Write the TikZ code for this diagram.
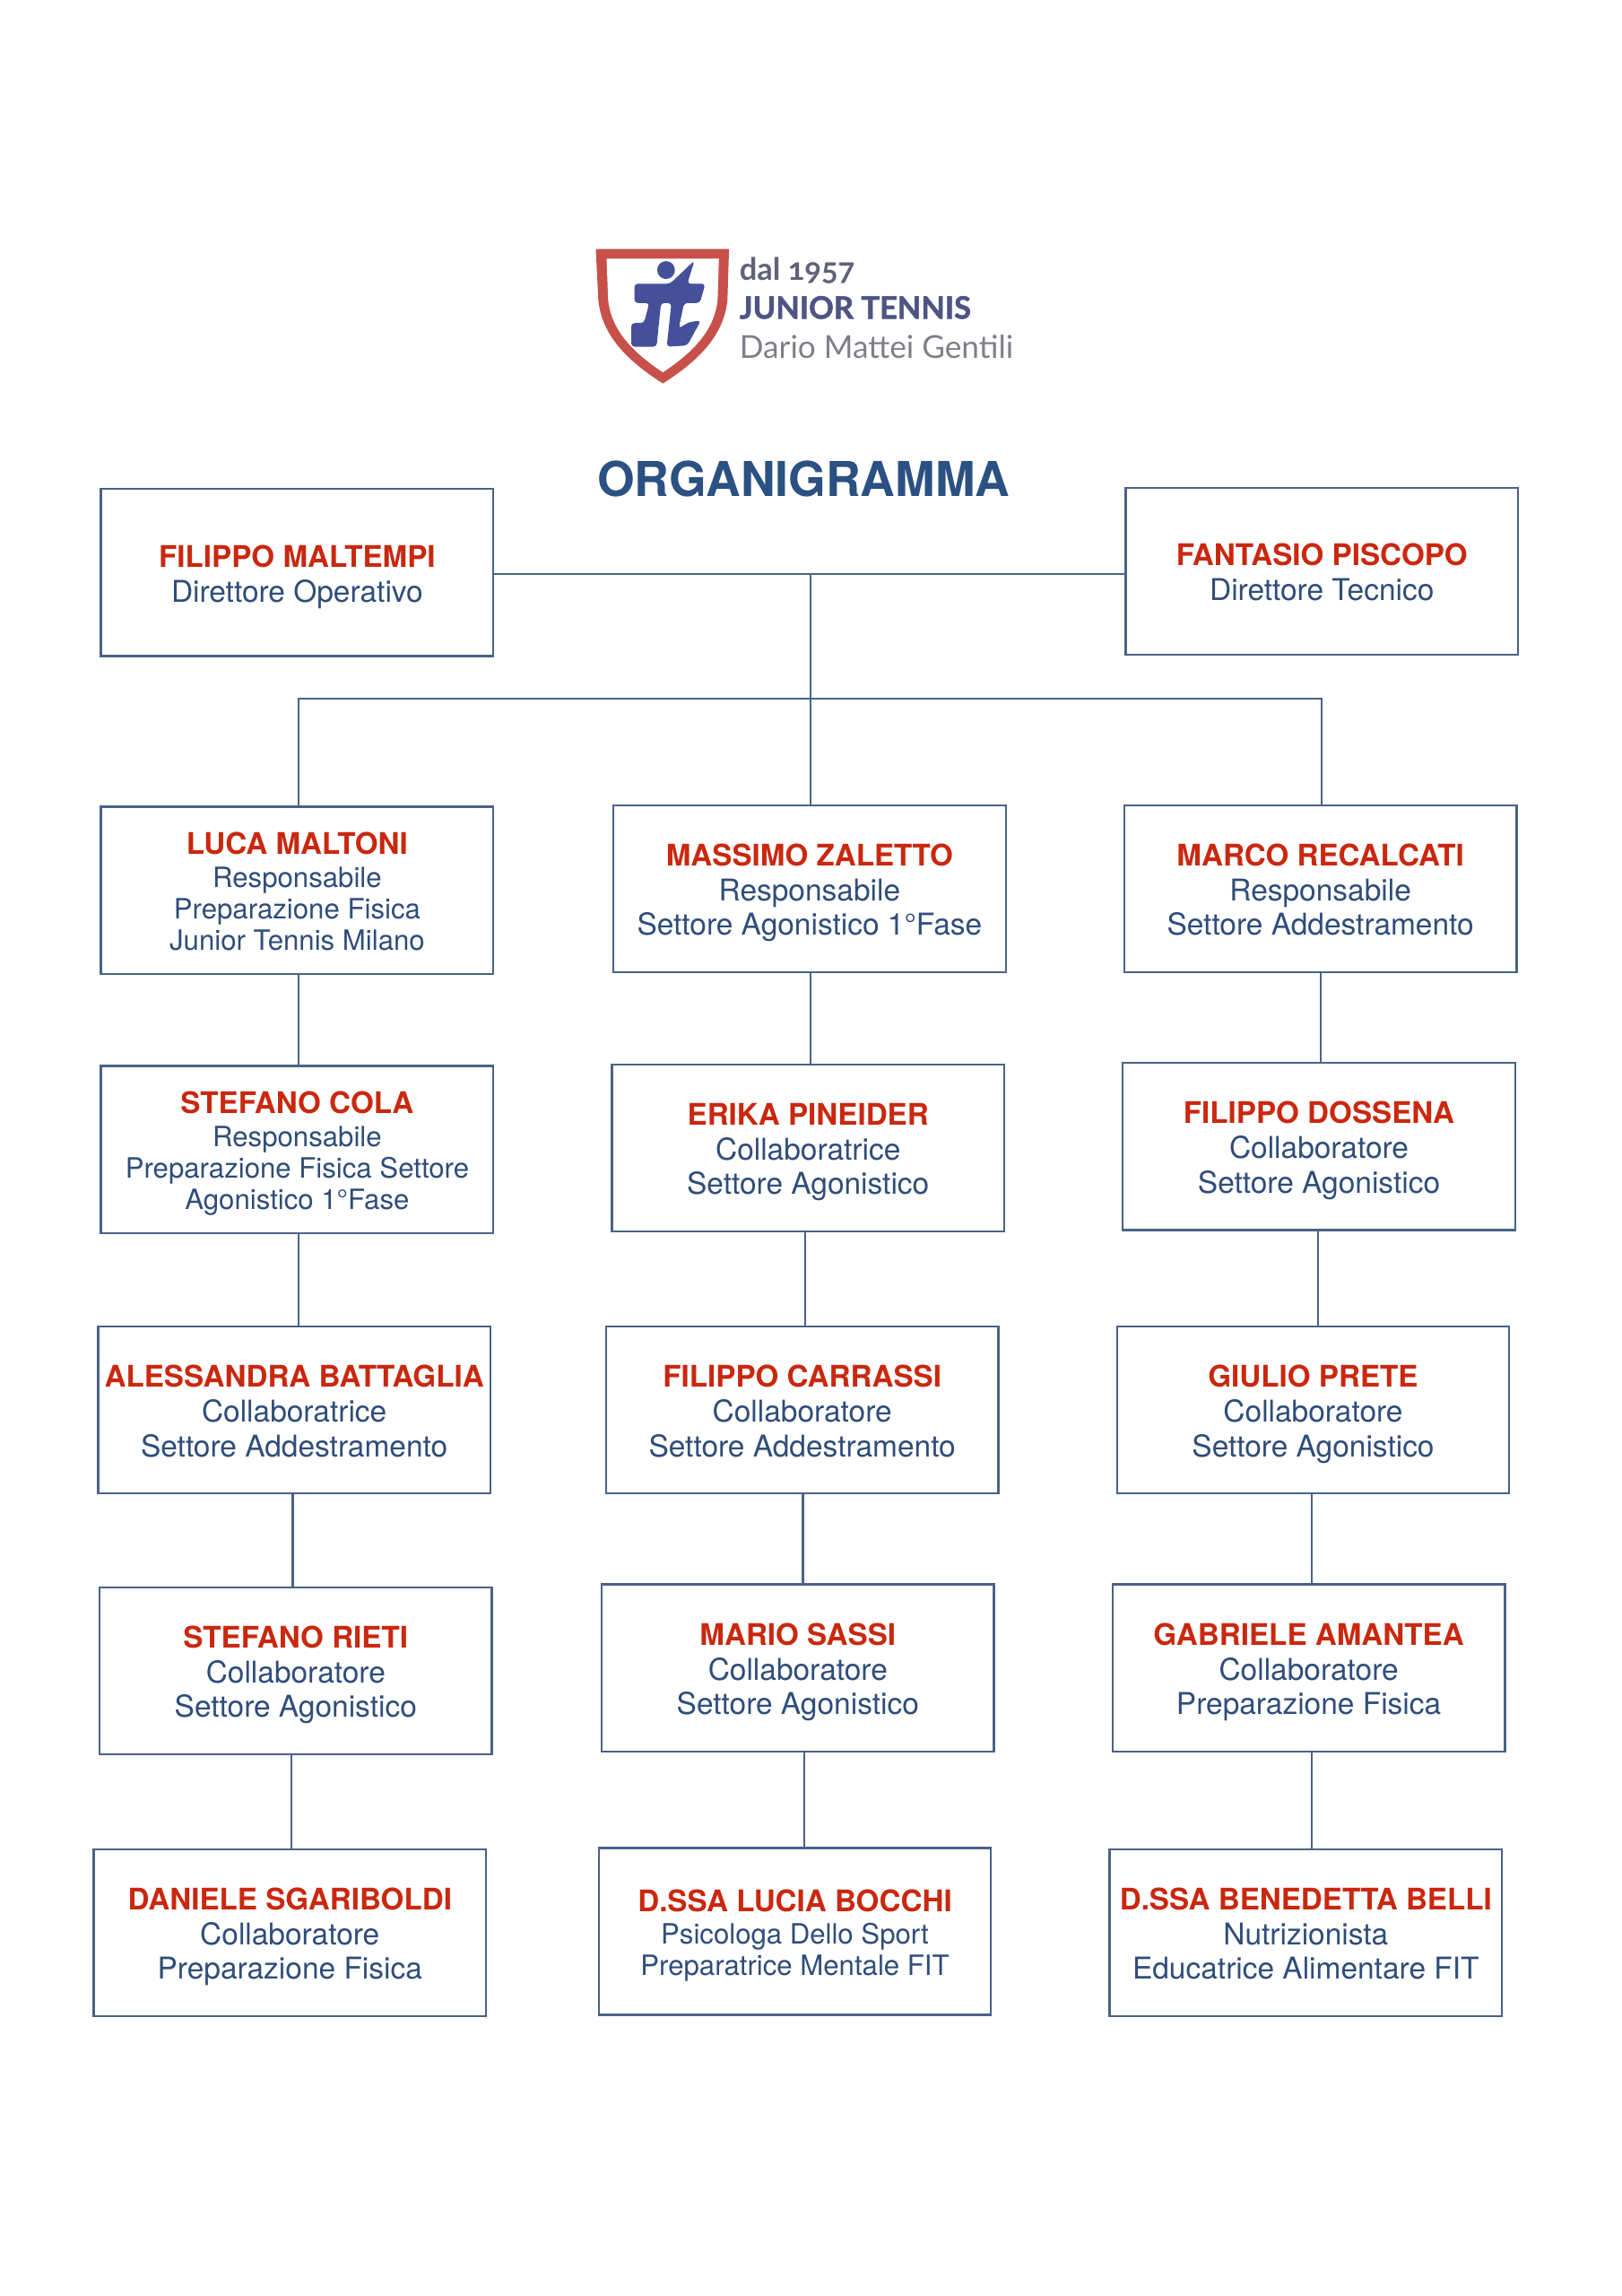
\documentclass[tikz,border=0pt]{standalone}
\usepackage{fontspec}
\setmainfont{TeX Gyre Heros}
\newfontfamily\logofont{Lato}
\newfontfamily\logoold[Numbers=OldStyle]{Lato Bold}
\newfontfamily\logoheavy[FakeBold=1.6]{Lato Bold}
\definecolor{nred}{HTML}{C9280F}
\definecolor{rblue}{HTML}{2F4D7A}
\definecolor{lblue}{HTML}{4A6288}
\definecolor{tblue}{HTML}{2B5082}
\definecolor{shred}{HTML}{C8504A}
\definecolor{shblue}{HTML}{46509A}
\definecolor{logogrey}{HTML}{5F6278}
\definecolor{logoblue}{HTML}{4F5583}
\definecolor{logolight}{HTML}{7D8089}
\newcommand{\pname}[1]{\rule{0pt}{17.6pt}{\color{nred}\bfseries\fontsize{17.35}{20}\selectfont #1}}
\newcommand{\plast}[1]{#1\vphantom{g}}
\tikzset{
 pbox/.style={draw=lblue,line width=1.2pt,fill=white,minimum width=8.04cm,minimum height=3.42cm,inner sep=0pt,align=center,text=rblue,font=\fontsize{17.5}{20}\selectfont},
 pboxs/.style={pbox,font=\fontsize{16.3}{18.2}\selectfont},
 link/.style={draw=lblue,line width=1.2pt},
 title/.style={font=\fontsize{28}{30}\selectfont\bfseries,text=tblue,inner sep=0pt},
}
\newcommand{\vlink}[3]{\draw[link] (#1.south -| #3,0) -- (#2.north -| #3,0);}
\begin{document}
\begin{tikzpicture}[x=0.03cm,y=-0.03cm]
\useasboundingbox (0,0) rectangle (1108,1568);
% logo
\begin{scope}[shift={(394.9,157.8)}]
\begin{scope}[x=0.00648cm,y=-0.00655cm]
\fill[shred] (56,56) -- (477,56) -- (472,215) .. controls (462,320) and (390,400) .. (268,477) .. controls (146,400) and (74,320) .. (64,215) -- cycle;
\fill[white] (90,86) -- (445,86) -- (441,215) .. controls (432,305) and (370,375) .. (268,442) .. controls (166,375) and (104,305) .. (95,215) -- cycle;
\fill[shblue] (278,122) circle (28);
\fill[shblue,rounded corners=2pt] (178,165) -- (290,165) -- (368,92) -- (345,165) -- (402,165) -- (385,225) -- (335,225) -- (318,305) -- (350,285) -- (388,280) -- (345,358) -- (280,362) -- (295,225) -- (262,225) -- (248,362) -- (168,362) -- (168,288) -- (208,288) -- (225,225) -- (178,225) -- cycle;
\end{scope}
\end{scope}
\node[anchor=west,inner sep=0pt,text=logogrey,font=\logoold\fontsize{18}{19}\selectfont] (l1) at (505,185) {dal 1957};
\node[anchor=west,inner sep=0pt,text=logoblue,font=\logoheavy\fontsize{18}{19}\selectfont] (l2) at (505,210) {JUNIOR TENNIS};
\node[anchor=west,inner sep=0pt,text=logolight,font=\logofont\fontsize{18.4}{19}\selectfont] (l3) at (505,237) {Dario Mattei Gentili};
\node[title] (ttl) at (549,327) {ORGANIGRAMMA};
% boxes
\node[pbox] (fm) at (203,391) {\pname{FILIPPO MALTEMPI}\\[0.4pt]\plast{Direttore Operativo}};
\node[pbox] (fp) at (903,390) {\pname{FANTASIO PISCOPO}\\[0.4pt]\plast{Direttore Tecnico}};
\node[pboxs] (lm) at (203,608) {\pname{LUCA MALTONI}\\[1pt]Responsabile\\Preparazione Fisica\\\plast{Junior Tennis Milano}};
\node[pbox] (mz) at (553,607) {\pname{MASSIMO ZALETTO}\\[0.4pt]Responsabile\\\plast{Settore Agonistico 1°Fase}};
\node[pbox] (mr) at (902,607) {\pname{MARCO RECALCATI}\\[0.4pt]Responsabile\\\plast{Settore Addestramento}};
\node[pboxs] (sc) at (203,785) {\pname{STEFANO COLA}\\[1pt]Responsabile\\Preparazione Fisica Settore\\\plast{Agonistico 1°Fase}};
\node[pbox] (ep) at (552,784) {\pname{ERIKA PINEIDER}\\[0.4pt]Collaboratrice\\\plast{Settore Agonistico}};
\node[pbox] (fd) at (901,783) {\pname{FILIPPO DOSSENA}\\[0.4pt]Collaboratore\\\plast{Settore Agonistico}};
\node[pbox] (ab) at (201,963) {\pname{ALESSANDRA BATTAGLIA}\\[0.4pt]Collaboratrice\\\plast{Settore Addestramento}};
\node[pbox] (fc) at (548,963) {\pname{FILIPPO CARRASSI}\\[0.4pt]Collaboratore\\\plast{Settore Addestramento}};
\node[pbox] (gp) at (897,963) {\pname{GIULIO PRETE}\\[0.4pt]Collaboratore\\\plast{Settore Agonistico}};
\node[pbox] (sr) at (202,1141) {\pname{STEFANO RIETI}\\[0.4pt]Collaboratore\\\plast{Settore Agonistico}};
\node[pbox] (ms) at (545,1139) {\pname{MARIO SASSI}\\[0.4pt]Collaboratore\\\plast{Settore Agonistico}};
\node[pbox] (ga) at (894,1139) {\pname{GABRIELE AMANTEA}\\[0.4pt]Collaboratore\\\plast{Preparazione Fisica}};
\node[pbox] (ds) at (198,1320) {\pname{DANIELE SGARIBOLDI}\\[0.4pt]Collaboratore\\\plast{Preparazione Fisica}};
\node[pboxs] (lb) at (543,1319) {\pname{D.SSA LUCIA BOCCHI}\\[1pt]Psicologa Dello Sport\\\plast{Preparatrice Mentale FIT}};
\node[pbox] (bb) at (892,1320) {\pname{D.SSA BENEDETTA BELLI}\\[0.4pt]Nutrizionista\\\plast{Educatrice Alimentare FIT}};
% connectors
\coordinate (bus) at (553.5,477);
\coordinate (top) at (553.5,392);
\draw[link] (fm.east |- top) -- (fp.west |- top);
\draw[link] (top) -- (mz.north -| top);
\draw[link] (lm.north -| 204,0) -- (204,0 |- bus) -- (903,0 |- bus) -- (mr.north -| 903,0);
\vlink{lm}{sc}{204}
\vlink{sc}{ab}{204}
\vlink{ab}{sr}{200}
\vlink{sr}{ds}{199}
\vlink{mz}{ep}{553.5}
\vlink{ep}{fc}{550}
\vlink{fc}{ms}{548.5}
\vlink{ms}{lb}{549.5}
\vlink{mr}{fd}{902}
\vlink{fd}{gp}{900.5}
\vlink{gp}{ga}{896}
\vlink{ga}{bb}{896}
\end{tikzpicture}
\end{document}
